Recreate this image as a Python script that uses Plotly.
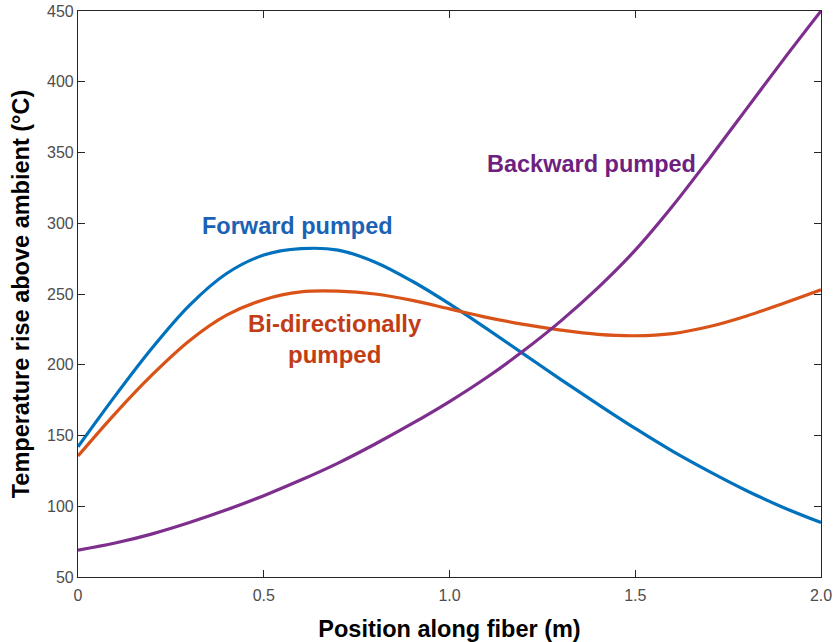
import plotly.graph_objects as go

# Position along the fiber (m)
position = [0.0, 0.1, 0.2, 0.3, 0.4, 0.5, 0.6, 0.7, 0.8, 0.9, 1.0,
            1.1, 1.2, 1.3, 1.4, 1.5, 1.6, 1.7, 1.8, 1.9, 2.0]

# Temperature rise above ambient (°C) for each pumping scheme
forward = [142, 178, 212, 242, 264.5, 277.5, 282, 281, 272.5, 259, 243,
           225.5, 207.5, 189.5, 172, 155, 139, 124.5, 111, 99, 88.5]
bidirectional = [135.5, 165.5, 193, 217, 235, 246, 251.5, 252, 250, 245.5, 239.5,
                 233.5, 228.5, 224.5, 221.5, 220.5, 222, 227, 234.5, 243.5, 253]
backward = [69, 74, 80.5, 88.5, 97.5, 107.5, 118.5, 130.5, 144, 158.5, 174,
            191, 210, 231, 254.5, 281, 312, 346, 381, 416, 450]

x_ticks = [0, 0.5, 1.0, 1.5, 2.0]
x_tick_text = ["0", "0.5", "1.0", "1.5", "2.0"]
y_ticks = [50, 100, 150, 200, 250, 300, 350, 400, 450]

BLUE = "#0072BD"
ORANGE = "#D95319"
PURPLE = "#7E2F8E"
FONT = "Arial, Liberation Sans, sans-serif"

fig = go.Figure()
for name, ys, color in [("Forward pumped", forward, BLUE),
                        ("Bi-directionally pumped", bidirectional, ORANGE),
                        ("Backward pumped", backward, PURPLE)]:
    fig.add_trace(go.Scatter(x=position, y=ys, mode="lines", name=name,
                             line=dict(color=color, width=3.2, shape="spline", smoothing=1.0)))

labels = [
    ("Forward pumped", 0.59, 298, "#1A63B4", 23.5),
    ("Bi-directionally<br>pumped", 0.693, 218, "#C23C16", 24),
    ("Backward pumped", 1.383, 342, "#6E1F80", 23.5),
]
for text, lx, ly, color, size in labels:
    fig.add_annotation(x=lx, y=ly, text=text, showarrow=False, xanchor="center", yanchor="middle",
                       font=dict(family=FONT, size=size, color=color, weight="bold"))

axis_common = dict(showline=True, linecolor="#262626", linewidth=1.2, mirror="ticks",
                   ticks="inside", ticklen=7, tickwidth=1, tickcolor="#262626",
                   showgrid=False, zeroline=False, automargin=False,
                   tickfont=dict(family=FONT, size=16, color="#4D4D4D"))

fig.update_xaxes(range=[0, 2], tickvals=x_ticks, ticktext=x_tick_text, ticklabelstandoff=4,
                 title=dict(text="<b>Position along fiber (m)</b>", standoff=18,
                            font=dict(family=FONT, size=23.5, color="#000000")),
                 **axis_common)
fig.update_yaxes(range=[50, 450], tickvals=y_ticks,
                 title=dict(text="<b>Temperature rise above ambient (°C)</b>", standoff=10,
                            font=dict(family=FONT, size=23.5, color="#000000")),
                 **axis_common)

fig.update_layout(width=834, height=642, showlegend=False,
                  margin=dict(l=78, r=13, t=11, b=65),
                  paper_bgcolor="white", plot_bgcolor="white")

fig.write_html("out.html")
